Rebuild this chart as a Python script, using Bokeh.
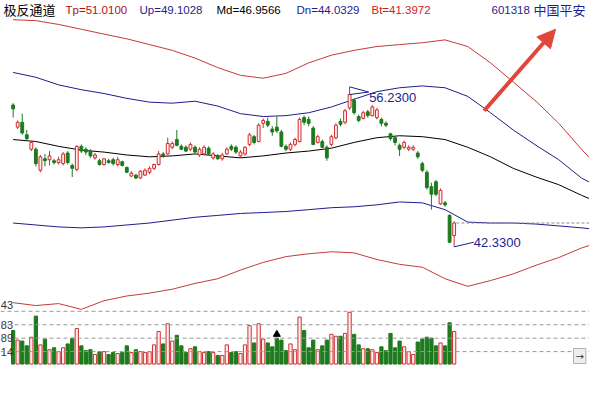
from bokeh.plotting import figure
from bokeh.models import Range1d, ColumnDataSource, Span, Label, Arrow, NormalHead
from bokeh.embed import file_html
from bokeh.resources import INLINE
from bokeh.core.properties import value

# ---------------- data ----------------
open_ = [54.65, 52.73, 53.15, 52.06, 50.81, 50.81, 48.98, 49.98, 49.90, 49.81,
         49.65, 49.56, 50.48, 49.40, 49.06, 51.06, 50.81, 50.65, 50.06, 49.81,
         49.48, 49.81, 49.90, 49.48, 49.73, 49.23, 48.48, 48.56, 48.31, 48.56,
         48.81, 49.15, 49.48, 50.40, 50.40, 50.98, 51.65, 51.06, 50.98, 50.81,
         50.98, 50.31, 50.40, 50.90, 50.06, 50.23, 49.98, 50.40, 51.06, 50.98,
         50.23, 50.40, 51.23, 51.90, 51.48, 53.06, 53.23, 52.56, 52.73, 52.31,
         51.06, 50.81, 51.23, 51.48, 53.56, 53.40, 52.65, 51.40, 51.48, 50.98,
         51.23, 51.81, 53.23, 53.15, 54.40, 55.06, 53.65, 53.48, 54.06, 53.73,
         53.56, 53.40, 53.06, 52.15, 51.81, 51.15, 50.98, 50.81, 50.81, 50.48,
         49.56, 48.81, 47.56, 47.98, 46.06, 46.15, 45.06, 43.31]
high = [54.81, 53.31, 53.90, 52.48, 51.48, 50.98, 50.31, 50.40, 50.65, 49.98,
        50.15, 50.56, 50.65, 49.56, 51.15, 51.23, 50.98, 50.81, 50.48, 49.98,
        50.06, 49.98, 50.06, 50.15, 49.81, 49.31, 48.90, 48.65, 48.98, 49.15,
        49.31, 49.56, 50.65, 50.56, 51.81, 51.48, 52.48, 51.23, 51.15, 51.40,
        51.15, 50.98, 51.15, 51.06, 50.56, 50.40, 50.48, 50.98, 51.23, 51.15,
        50.73, 51.06, 52.23, 52.06, 53.06, 53.48, 53.56, 52.81, 53.65, 52.48,
        51.23, 51.40, 51.81, 53.56, 53.73, 53.65, 52.81, 52.06, 51.65, 51.15,
        52.06, 53.06, 53.48, 54.31, 56.23, 55.23, 53.81, 54.15, 54.23, 54.65,
        54.40, 53.56, 53.23, 52.23, 51.98, 51.31, 51.56, 51.15, 51.15, 50.65,
        49.73, 48.98, 47.90, 48.15, 47.40, 46.31, 45.15, 44.56]
low = [53.56, 52.56, 52.06, 51.56, 50.65, 49.31, 48.81, 49.31, 49.40, 49.48,
       49.48, 49.40, 49.48, 48.40, 48.90, 50.48, 50.31, 50.06, 49.90, 49.40,
       49.40, 49.56, 49.40, 49.31, 49.31, 48.73, 48.40, 48.23, 48.23, 48.48,
       48.65, 48.98, 49.40, 50.06, 50.31, 50.81, 51.06, 50.73, 50.56, 50.65,
       50.48, 50.15, 50.31, 50.31, 49.90, 49.90, 49.81, 50.31, 50.65, 50.40,
       50.06, 50.23, 51.06, 51.23, 51.40, 52.65, 52.73, 51.98, 52.23, 50.98,
       50.65, 50.65, 51.06, 51.40, 52.90, 52.81, 51.15, 51.31, 50.90, 49.81,
       51.06, 51.65, 52.81, 52.98, 54.23, 53.81, 53.15, 53.40, 53.56, 53.65,
       53.40, 52.81, 52.73, 51.56, 51.15, 50.23, 50.81, 50.65, 50.65, 49.98,
       48.81, 47.31, 45.56, 46.73, 45.98, 45.81, 42.65, 42.33]
close = [54.31, 53.15, 52.23, 51.73, 51.40, 49.56, 50.15, 49.81, 50.23, 49.65,
         49.90, 50.40, 49.65, 49.15, 51.06, 50.65, 50.56, 50.23, 50.31, 49.48,
         49.98, 49.65, 49.56, 49.90, 49.40, 48.81, 48.73, 48.31, 48.90, 48.98,
         49.15, 49.48, 50.40, 50.23, 51.31, 51.31, 51.15, 50.81, 50.65, 51.23,
         50.56, 50.81, 50.98, 50.40, 50.40, 49.98, 50.31, 50.81, 50.81, 50.56,
         50.56, 50.98, 52.06, 51.40, 52.90, 53.31, 52.90, 52.31, 52.40, 51.06,
         50.81, 51.23, 51.65, 53.40, 53.15, 53.06, 51.23, 51.90, 50.98, 50.06,
         51.90, 52.90, 52.98, 54.15, 55.56, 53.98, 53.31, 53.98, 53.73, 54.48,
         54.23, 53.06, 52.90, 51.73, 51.40, 50.81, 51.40, 50.98, 50.98, 50.15,
         48.98, 47.48, 46.90, 46.90, 47.23, 45.98, 42.73, 44.40]
volume = [35, 25, 24, 19, 28, 50, 20, 26, 15, 17,
          13, 17, 21, 27, 37, 19, 14, 15, 10, 13,
          13, 10, 12, 11, 12, 19, 12, 15, 13, 12,
          13, 20, 34, 21, 42, 24, 30, 19, 12, 16,
          18, 13, 12, 13, 12, 9, 9, 20, 12, 13,
          11, 20, 40, 22, 42, 26, 22, 18, 27, 25,
          14, 21, 15, 49, 35, 17, 25, 15, 19, 25,
          31, 29, 29, 32, 54, 31, 20, 16, 16, 15,
          12, 18, 14, 32, 17, 24, 18, 13, 10, 23,
          26, 28, 27, 19, 22, 19, 43, 34]

band_idx = [0, 5, 10, 15, 20, 25, 30, 35, 40, 45, 50, 55, 60, 65, 70, 75,
            80, 85, 90, 95, 100, 105, 110, 115, 120, 125, 127]
band_tp = [62.06, 61.98, 61.65, 61.23, 60.81, 60.40, 59.90, 59.40, 58.73, 57.90,
           57.23, 56.98, 57.40, 58.31, 58.98, 59.40, 59.73, 59.90, 60.06, 60.31,
           59.73, 58.31, 56.65, 54.98, 53.06, 50.81, 49.98]
band_up = [57.48, 57.06, 56.40, 55.98, 55.65, 55.23, 54.90, 54.81, 54.98, 54.56,
           53.90, 53.65, 53.73, 53.98, 54.48, 55.15, 55.81, 56.15, 56.31, 56.15,
           55.40, 53.98, 52.48, 51.15, 49.90, 48.31, 47.90]
band_md = [51.65, 51.48, 51.06, 50.73, 50.56, 50.31, 50.15, 50.23, 50.40, 50.23,
           50.06, 50.23, 50.48, 50.65, 50.90, 51.40, 51.81, 51.98, 51.90, 51.65,
           50.98, 50.15, 49.15, 48.40, 47.73, 46.81, 46.48]
band_dn = [44.40, 44.23, 44.06, 43.98, 44.06, 44.23, 44.40, 44.65, 44.90, 45.06,
           45.23, 45.31, 45.40, 45.56, 45.73, 45.81, 45.98, 46.23, 46.15, 45.56,
           44.48, 44.40, 44.40, 44.31, 44.15, 43.98, 43.90]
band_bt = [37.48, 37.23, 37.40, 36.90, 37.65, 38.06, 38.31, 38.65, 39.15, 39.56,
           40.31, 40.98, 41.48, 41.73, 41.90, 41.81, 41.23, 40.81, 40.56, 39.56,
           38.90, 39.40, 39.98, 40.73, 41.40, 42.23, 42.48]

header_title = "极反通道"
header_names = ["Tp", "Up", "Md", "Dn", "Bt"]
header_values = [51.0100, 49.1028, 46.9566, 44.0329, 41.3972]
stock_code = "601318"
stock_name = "中国平安"

vol_levels = [13, 27, 41, 55]
vol_level_labels = ["14", "89", "83", "43"]

# ---------------- colours ----------------
RED = "#d02c2c"
RED_FILL = "#fff0f0"
GREEN = "#1d7a1d"
NAVY = "#1e1e8e"
BAND_RED = "#c43a3a"

W, H = 589, 377
p = figure(width=W, height=H, output_backend="svg", toolbar_location=None,
           x_range=Range1d(-2.78, 126.77), y_range=Range1d(30.98, 63.73),
           x_axis_location=None, y_axis_location=None, min_border=0)
p.extra_y_ranges = {"vol": Range1d(-14, 379)}
p.grid.visible = False
p.outline_line_color = None
p.background_fill_color = "white"

n = len(open_)
idx = list(range(n))
up = [i for i in idx if close[i] >= open_[i]]
dn = [i for i in idx if close[i] < open_[i]]

def src(ids):
    return ColumnDataSource(dict(
        x=ids,
        o=[open_[i] for i in ids], h=[high[i] for i in ids],
        l=[low[i] for i in ids], c=[close[i] for i in ids],
        v=[volume[i] for i in ids]))

su, sd = src(up), src(dn)

# volume grid lines
for lvl in vol_levels:
    p.add_layout(Span(location=lvl, dimension="width", y_range_name="vol",
                      line_color="#9a9a9a", line_dash="4 3", line_width=1))

# bands
p.line(band_idx, band_tp, line_color=BAND_RED, line_width=1)
p.line(band_idx, band_up, line_color=NAVY, line_width=1)
p.line(band_idx, band_md, line_color="black", line_width=1)
p.line(band_idx, band_dn, line_color=NAVY, line_width=1)
p.line(band_idx, band_bt, line_color=BAND_RED, line_width=1)

# last price dashed line
p.segment(x0=[n - 0.5], y0=[close[-1]], x1=[126.77], y1=[close[-1]],
          line_color="#8a8aa8", line_dash="3 2", line_width=1)

# candles
p.segment(x0="x", y0="h", x1="x", y1="l", source=sd, line_color=GREEN, line_width=1)
p.vbar(x="x", top="o", bottom="c", width=0.62, source=sd,
       fill_color=GREEN, line_color=GREEN, line_width=1)
p.segment(x0="x", y0="h", x1="x", y1="l", source=su, line_color=RED, line_width=1)
p.vbar(x="x", top="c", bottom="o", width=0.62, source=su,
       fill_color=RED_FILL, line_color=RED, line_width=1)

# volume bars
p.vbar(x="x", top="v", bottom=0, width=0.72, source=sd, y_range_name="vol",
       fill_color=GREEN, line_color=GREEN, line_width=1)
p.vbar(x="x", top="v", bottom=0, width=0.72, source=su, y_range_name="vol",
       fill_color=RED_FILL, line_color=RED, line_width=1)

# marker above one volume bar
p.scatter(x=[58], y=[volume[58] + 4], marker="triangle", size=7,
          fill_color="black", line_color="black", y_range_name="vol")

# volume level labels
p.text(x=[-2.7] * 3, y=vol_levels[:3], text=vol_level_labels[:3], y_range_name="vol",
       text_font=value("Liberation Sans"), text_font_size="11px",
       text_color="#333333", text_baseline="middle", text_align="left")
p.text(x=[-2.7], y=vol_levels[3:], text=vol_level_labels[3:], y_range_name="vol",
       text_font=value("Liberation Sans"), text_font_size="11px", y_offset=-6,
       text_color="#333333", text_baseline="middle", text_align="left")

# high / low annotations
hi_i = max(idx, key=lambda i: high[i])
lo_i = min(idx, key=lambda i: low[i])
p.segment(x0=[hi_i, hi_i], y0=[high[hi_i], close[hi_i]],
          x1=[hi_i + 4.2, hi_i + 4.2], y1=[high[hi_i] - 0.45, high[hi_i] - 0.45],
          line_color=NAVY, line_width=1)
p.text(x=[hi_i + 4.3], y=[high[hi_i] - 0.95], text=[f"{high[hi_i]:.4f}"],
       text_font=value("Liberation Sans"), text_font_size="13px",
       text_color=NAVY, text_baseline="middle", text_align="left")
p.segment(x0=[lo_i], y0=[low[lo_i]], x1=[lo_i + 4.3], y1=[low[lo_i] + 0.4],
          line_color=NAVY, line_width=1)
p.text(x=[lo_i + 4.3], y=[low[lo_i] + 0.4], text=[f"{low[lo_i]:.4f}"],
       text_font=value("Liberation Sans"), text_font_size="13px",
       text_color=NAVY, text_baseline="middle", text_align="left")

# red arrow
p.add_layout(Arrow(end=NormalHead(size=18, fill_color="#e2463a", line_color="#e2463a"),
                   x_start=103.6, y_start=54.15, x_end=119.3, y_end=61.23,
                   line_color="#e2463a", line_width=4))

# header
hy = 368
p.add_layout(Label(x=3, y=hy, x_units="screen", y_units="screen", text=header_title,
                   text_font="Noto Sans CJK SC", text_font_size="13px",
                   text_color="black", text_baseline="middle"))
hx = [65, 139, 216, 296, 371]
hcol = ["#b01010", NAVY, "black", NAVY, "#d41a1a"]
for name, val, x, c in zip(header_names, header_values, hx, hcol):
    p.add_layout(Label(x=x, y=hy, x_units="screen", y_units="screen",
                       text=f"{name}={val:.4f}", text_font="Liberation Sans",
                       text_font_size="11.5px", text_color=c, text_baseline="middle"))
p.add_layout(Label(x=491, y=hy, x_units="screen", y_units="screen", text=stock_code,
                   text_font="Liberation Sans", text_font_size="11.5px",
                   text_color=NAVY, text_baseline="middle"))
p.add_layout(Label(x=533, y=hy, x_units="screen", y_units="screen", text=stock_name,
                   text_font="Noto Sans CJK SC", text_font_size="13px",
                   text_color=NAVY, text_baseline="middle"))

# small scroll button bottom-right
p.add_layout(Label(x=573, y=14, x_units="screen", y_units="screen", text="→",
                   text_font="DejaVu Sans", text_font_size="10px", text_color="#333333",
                   background_fill_color="#eeeeee", border_line_color="#b0b0b0",
                   padding=2))

open("out.html", "w").write(file_html(p, INLINE))
